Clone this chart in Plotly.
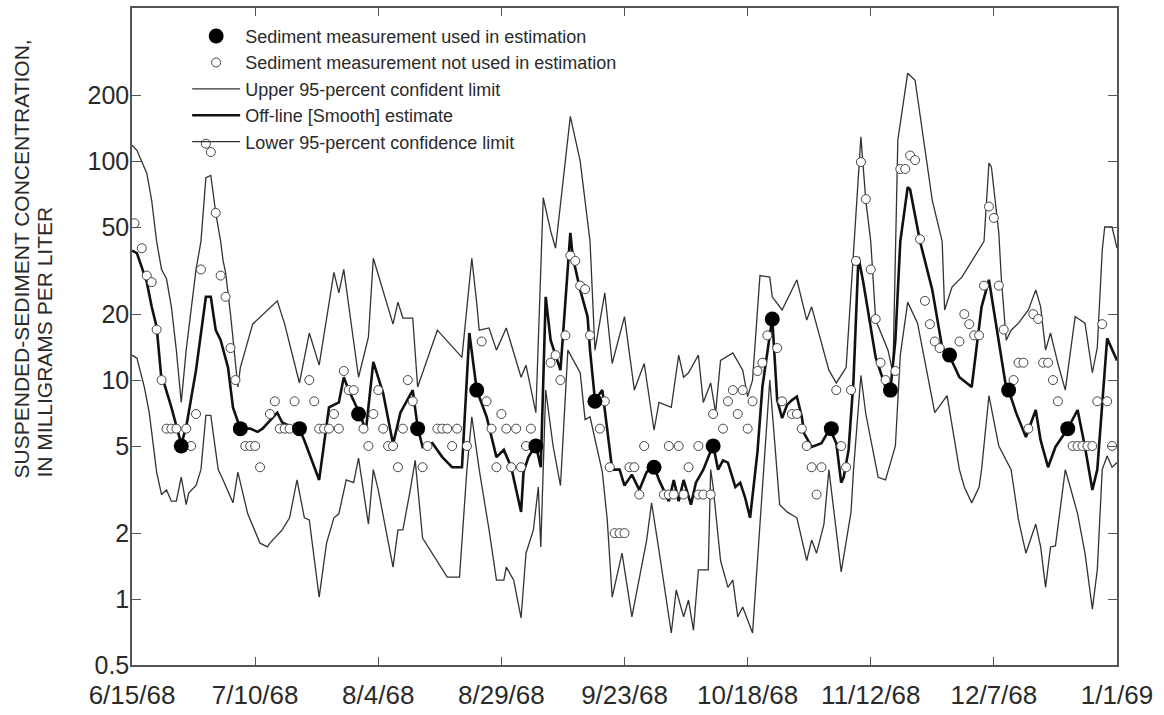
import pandas as pd
import plotly.graph_objects as go

START = "1968-06-15"

# ---- Upper 95-percent confidence limit (day offset from 6/15/68, mg/L) ----
upper_days = [0, 1, 3, 4, 5, 6, 7, 8, 9, 10, 11, 12, 13, 14, 15, 16, 17, 18, 18.5, 19, 20, 21.5, 22, 24.5,
              27.5, 29.5, 31, 34, 36, 38, 41, 42, 43, 46, 48, 49, 53, 54, 55, 57, 58, 62, 67, 69, 70, 70.5,
              72.5, 74, 76, 79, 80, 82, 83.5, 85, 86, 89, 91, 93, 94, 96, 97.5, 100, 102, 104, 106, 107,
              109.5, 111, 112, 113, 115, 116, 117.5, 118.5, 119.5, 122, 124, 125, 126, 127.5, 129.5, 130,
              132, 135, 137, 138, 141.5, 143, 145, 148, 149, 150, 151, 153.5, 154.5, 155.5, 157.5, 159,
              162.5, 164.5, 165, 166.5, 168.5, 171.5, 173, 174, 174.5, 176, 176.5, 177.5, 178.5, 180, 182,
              183.5, 184.5, 185.5, 186.5, 188, 189.5, 191.5, 193.5, 195, 196, 197, 197.5, 199, 200]
upper_vals = [118, 112, 88, 66, 43, 32, 29, 21.6, 13.7, 7.9, 13.7, 21.6, 32, 43, 84, 86, 58, 43, 35, 31, 20,
              9.3, 11.4, 18, 20.9, 23, 18, 9.7, 16.4, 11.7, 31, 25, 32, 10.3, 15.7, 36, 18, 22.7, 19.2, 19.2,
              9.3, 16.9, 12.7, 36, 22.4, 16.9, 17.3, 13.7, 17.3, 10.3, 11.7, 7.1, 68, 48, 40, 160, 100, 43,
              13.7, 25, 11.9, 19.5, 9, 11.9, 5.9, 7.9, 7.5, 13, 10.3, 10.8, 13, 7.9, 9.7, 7.1, 12.3, 13.3,
              11.1, 8.4, 10, 30, 29.5, 24, 20.9, 28.7, 18.8, 21.6, 11.1, 9.7, 11.4, 129, 66, 43, 18.8, 13.7,
              10.8, 125, 252, 234, 66, 43, 20.9, 26.6, 29.5, 38, 43, 98, 94, 47, 29.5, 15.2, 16.9, 18.2,
              20.9, 25.8, 21.6, 13.7, 16.4, 11.9, 9, 19.5, 18.2, 10.8, 14.1, 39, 50, 50, 40]

# ---- Off-line [Smooth] estimate ----
est_days = [0, 1, 3, 4, 5, 6, 6.5, 8, 10, 11, 13, 15, 16, 17, 18, 19.5, 20.5, 21.5, 22, 24, 25.5, 26.5,
            29.5, 30.5, 32.5, 34, 35, 38, 40, 42, 43, 44, 46, 47.5, 49, 51, 53, 54.5, 57, 58, 59, 61, 63,
            65, 67, 68.5, 70, 72, 74, 75.5, 77, 79, 79.5, 80.5, 82, 83, 84, 85, 87, 89, 89.5, 91, 92.5, 93,
            94, 95.5, 96.5, 97.5, 99, 100, 101.5, 103, 104.5, 106, 107, 109, 110, 111, 112, 113.5, 114.5,
            116, 118, 119, 120, 121, 122.5, 123.5, 124.5, 125.5, 127, 128, 130, 130.5, 131, 132, 133, 134,
            135, 136, 136.5, 138, 140, 141.7, 143, 144, 144.5, 145.5, 146.5, 147.5, 148.5, 151, 153, 154,
            155, 156, 157.5, 158, 160, 162.5, 164.5, 166, 168, 170.5, 172.5, 174, 176, 177.5, 178, 179.5,
            181.5, 183.5, 184.5, 186, 187.5, 190, 192, 193.5, 195, 196, 198, 200]
est_vals = [39, 38, 28, 21.6, 17.5, 10, 9.7, 7.5, 5.1, 6.1, 11.1, 24, 24, 16.9, 15.2, 11.4, 7.5, 6.4, 6.0,
            6, 5.8, 6, 7.1, 6.4, 6.1, 6.0, 5.3, 3.5, 7.5, 7.9, 10.3, 9, 7.2, 5.9, 12.1, 8.7, 5.1, 7.1, 9,
            6.1, 4.95, 5.15, 4.45, 4, 4, 16.4, 9.0, 6.8, 4.45, 4.8, 4.0, 2.5, 3.8, 4.45, 5.05, 4.0, 24,
            15.2, 11.1, 47, 36.5, 25.8, 19.5, 13.7, 8.1, 9, 6.1, 3.9, 3.9, 3.3, 3.7, 3.15, 3.8, 4.05, 3.5,
            2.8, 3.5, 2.8, 3.5, 2.7, 3.4, 3.9, 5.05, 3.9, 4.3, 4.2, 3.25, 3.4, 2.9, 2.35, 4.7, 9.3, 19.2,
            12.7, 8.1, 6.7, 7.7, 8.1, 8.4, 6.8, 5.7, 4.95, 5.15, 6.0, 5.15, 3.4, 3.6, 4.8, 10, 36.5, 27.8,
            12.7, 9.3, 9.1, 15.2, 43, 76, 74, 43, 25.8, 14.1, 12.9, 10.3, 9.3, 21.6, 28.7, 15.2, 9.2, 9.0,
            7.1, 5.5, 7.3, 5.3, 4.0, 4.95, 6.0, 7.3, 4.95, 3.15, 3.9, 15.5, 12.3]

# ---- Lower 95-percent confidence limit ----
lower_days = [0, 1, 2.5, 3.5, 5, 6, 7, 8, 9, 10, 11, 11.5, 13, 14, 15, 16, 17.5, 18.5, 20.5, 21.5, 23.5,
              26, 27.5, 28, 30.5, 32, 33.5, 35, 36, 38, 39.5, 41, 42, 43.5, 45, 46, 48, 49, 50, 53, 54, 55,
              56.5, 57.5, 59, 61, 64, 66.5, 68, 69, 70.5, 72.5, 74, 75.5, 76, 77.5, 79, 80, 81.5, 82.5, 83,
              84, 85.5, 87, 88.5, 91, 92, 93, 94.5, 95.5, 96.5, 97.5, 99.5, 101.5, 104.5, 105.5, 107, 109.5,
              110.5, 112, 113, 114, 115, 117, 117.5, 118, 119.5, 121, 122, 123, 124, 126, 129.5, 131.5, 133,
              135, 137, 138, 139, 140.5, 141.5, 142.5, 144, 146, 146.5, 148, 149, 151.5, 153, 155, 156,
              157.5, 159.5, 163, 165.5, 168, 169, 170.5, 172, 172.5, 174, 176, 178.5, 180, 181.5, 183.5,
              184.5, 185.5, 186.5, 187.5, 189.5, 190.5, 192, 193.5, 195, 196, 197, 198, 199, 200]
lower_vals = [13, 12.6, 9.3, 7.1, 3.8, 3.0, 3.15, 2.8, 2.8, 3.6, 2.7, 3.05, 3.3, 3.9, 6.9, 6.9, 3.9, 3.5,
              2.75, 3.8, 2.45, 1.8, 1.73, 1.8, 2.07, 2.35, 3.5, 2.35, 2.3, 1.02, 1.8, 2.35, 2.45, 3.5, 3.4,
              4.4, 2.2, 3.9, 3.15, 1.4, 2.07, 2.07, 3.15, 4.3, 1.9, 1.62, 1.26, 1.26, 3.9, 6.8, 3.9, 2.07,
              1.22, 1.22, 1.4, 1.22, 0.82, 1.62, 2.07, 3.25, 1.73, 9, 5, 3.3, 13.7, 10.8, 6.6, 6.8, 4.8, 3.8,
              2.3, 1.02, 1.62, 0.83, 1.86, 2.75, 1.67, 0.70, 1.1, 0.83, 0.99, 0.72, 1.36, 1.36, 3.9, 3.25,
              1.5, 1.13, 1.22, 0.83, 0.92, 0.70, 10, 2.7, 2.5, 2.35, 1.5, 1.86, 1.62, 2.2, 3.9, 2.5, 1.33,
              2.5, 3.9, 10.5, 7, 3.6, 3.5, 5, 13, 22.7, 18.2, 7.1, 8.5, 3.9, 3.25, 2.75, 3.25, 3.9, 8.5, 5.0,
              3.9, 2.3, 1.62, 2.2, 1.73, 1.13, 1.73, 1.75, 3.9, 3.25, 2.45, 1.62, 0.9, 1.36, 3.9, 4.5, 4.0,
              4.2]

# ---- Sediment measurements used in estimation ----
used_days = [10, 22, 34, 46, 58, 70, 82, 94, 106, 118, 130, 142, 154, 166, 178, 190]
used_vals = [5, 6, 6, 7, 6, 9, 5, 8, 4, 5, 19, 6, 9, 13, 9, 6]

# ---- Sediment measurements not used in estimation ----
notused_days = [0.5, 2, 3, 4, 5, 6, 7, 8, 9, 11, 12, 13, 14, 15, 16, 17, 18, 19, 20, 21, 23, 24, 25, 26,
                28, 29, 30, 31, 32, 33, 36, 37, 38, 39, 40, 41, 42, 43, 44, 45, 47, 48, 49, 50, 51, 52, 53,
                54, 55, 56, 57, 59, 60, 62, 63, 64, 65, 66, 68, 71, 72, 73, 74, 75, 76, 77, 78, 79, 80, 81,
                85, 86, 87, 88, 89, 90, 91, 92, 93, 95, 96, 97, 98, 99, 100, 101, 102, 103, 104, 108, 109,
                109, 110, 111, 112, 113, 115, 115, 116, 117.5, 118, 120, 121, 122, 123, 124, 125, 126, 127,
                128, 129, 131, 132, 134, 135, 136, 137, 138, 139, 140, 143, 144, 145, 146, 147, 148, 149,
                150, 151, 152, 153, 155, 156, 157, 158, 159, 160, 161, 162, 163, 164, 168, 169, 170, 171,
                172, 173, 174, 175, 176, 177, 179, 180, 181, 182, 183, 184, 185, 186, 187, 188, 191, 192,
                193, 194, 195, 196, 197, 198, 199]
notused_vals = [52, 40, 30, 28, 17, 10, 6, 6, 6, 6, 5, 7, 32, 120, 110, 58, 30, 24, 14, 10, 5, 5, 5, 4,
                7, 8, 6, 6, 6, 8, 10, 8, 6, 6, 6, 7, 6, 11, 9, 9, 6, 5, 7, 9, 6, 5, 5, 4, 6, 10, 8, 4, 5, 6,
                6, 6, 5, 6, 5, 15, 8, 6, 4, 7, 6, 4, 6, 4, 5, 6, 12, 13, 10, 16, 37, 35, 27, 26, 16, 6, 8, 4,
                2, 2, 2, 4, 4, 3, 5, 3, 5, 3, 3, 5, 3, 4, 5, 3, 3, 3, 7, 6, 8, 9, 7, 9, 6, 8, 11, 12, 16, 14,
                8, 7, 7, 6, 5, 4, 3, 4, 9, 5, 4, 9, 35, 99, 67, 32, 19, 12, 10, 11, 92, 92, 106, 101, 44, 23,
                18, 15, 14, 15, 20, 18, 16, 16, 27, 62, 55, 27, 17, 10, 12, 12, 6, 20, 19, 12, 12, 10, 8, 5,
                5, 5, 5, 5, 8, 18, 8, 5]

# ---- Axis ticks ----
x_tick_days = [0, 25, 50, 75, 100, 125, 150, 175, 200]
x_tick_labels = ["6/15/68", "7/10/68", "8/4/68", "8/29/68", "9/23/68", "10/18/68", "11/12/68",
                 "12/7/68", "1/1/69"]
y_tick_vals = [0.5, 1, 2, 5, 10, 20, 50, 100, 200]
y_tick_labels = ["0.5", "1", "2", "5", "10", "20", "50", "100", "200"]


def to_dates(days):
    return pd.Timestamp(START) + pd.to_timedelta(days, unit="D")


FONT = "Liberation Sans, Arial, sans-serif"
INK = "#2a2a2a"

fig = go.Figure()

fig.add_trace(go.Scatter(
    x=to_dates(upper_days), y=upper_vals, mode="lines",
    name="Upper 95-percent confident limit", legendrank=3,
    line=dict(color="#333333", width=1.3)))
fig.add_trace(go.Scatter(
    x=to_dates(lower_days), y=lower_vals, mode="lines",
    name="Lower 95-percent confidence limit", legendrank=5,
    line=dict(color="#333333", width=1.3)))
fig.add_trace(go.Scatter(
    x=to_dates(est_days), y=est_vals, mode="lines",
    name="Off-line [Smooth] estimate", legendrank=4,
    line=dict(color="#111111", width=2.6)))
fig.add_trace(go.Scatter(
    x=to_dates(notused_days), y=notused_vals, mode="markers",
    name="Sediment measurement not used in estimation", legendrank=2,
    marker=dict(symbol="circle", size=9, color="white",
                line=dict(color="#444444", width=1))))
fig.add_trace(go.Scatter(
    x=to_dates(used_days), y=used_vals, mode="markers",
    name="Sediment measurement used in estimation", legendrank=1,
    marker=dict(symbol="circle", size=15, color="black",
                line=dict(color="black", width=0))))

fig.update_layout(
    width=1164, height=715,
    margin=dict(l=132, r=47, t=8, b=50, autoexpand=False),
    paper_bgcolor="white", plot_bgcolor="white",
    font=dict(family=FONT, color=INK),
    showlegend=True,
    legend=dict(x=0.056, y=0.985, xanchor="left", yanchor="top",
                bgcolor="rgba(0,0,0,0)", borderwidth=0,
                font=dict(family=FONT, size=18, color=INK),
                tracegroupgap=0, itemwidth=48),
)

fig.update_xaxes(
    type="date", automargin=False,
    range=[to_dates([0])[0], to_dates([200])[0]],
    tickmode="array", tickvals=list(to_dates(x_tick_days)), ticktext=x_tick_labels,
    ticks="inside", ticklen=8, tickwidth=1.2, tickcolor="#555555",
    showline=True, linecolor="#555555", linewidth=1.5, mirror="ticks",
    showgrid=False, zeroline=False,
    tickfont=dict(family=FONT, size=26, color=INK),
    ticklabelstandoff=6,
)
fig.update_yaxes(
    type="log", automargin=False, range=[-0.30103, 2.69897],
    tickmode="array", tickvals=y_tick_vals, ticktext=y_tick_labels,
    ticks="inside", ticklen=9, tickwidth=1.2, tickcolor="#555555",
    showline=True, linecolor="#555555", linewidth=1.5, mirror="ticks",
    showgrid=False, zeroline=False,
    tickfont=dict(family=FONT, size=25, color=INK),
    ticklabelstandoff=-4,
)

# y-axis title: two start-aligned rotated lines
fig.add_annotation(text="SUSPENDED-SEDIMENT CONCENTRATION,", xref="paper", yref="paper",
                   x=-0.1117, y=0.2816, xanchor="center", yanchor="bottom", textangle=-90,
                   showarrow=False, font=dict(family=FONT, size=21, color=INK))
fig.add_annotation(text="IN MILLIGRAMS PER LITER", xref="paper", yref="paper",
                   x=-0.0893, y=0.2816, xanchor="center", yanchor="bottom", textangle=-90,
                   showarrow=False, font=dict(family=FONT, size=21, color=INK))

# remove the default page margin so the 1164x715 figure fills the window exactly
fig.write_html("out.html",
               config={"displayModeBar": False},
               post_script="document.body.style.margin='0px';document.body.style.overflow='hidden';")
